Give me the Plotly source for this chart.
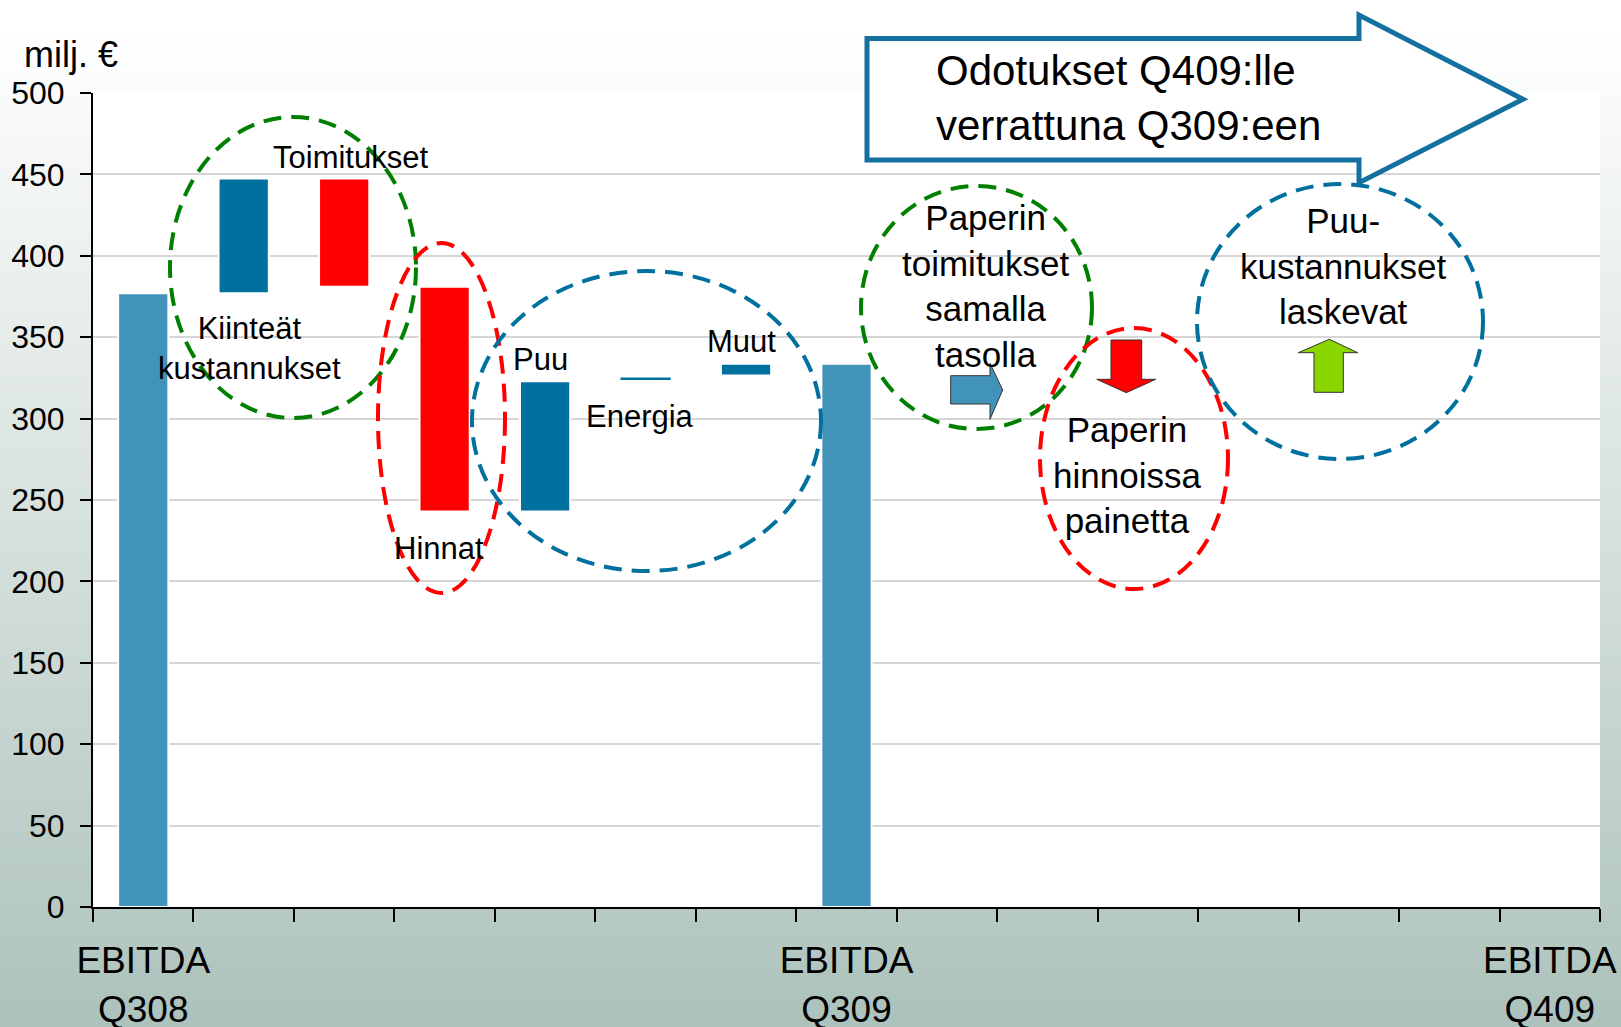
import plotly.graph_objects as go

# ---------------- data ----------------
step_names = ["EBITDA Q308", "Kiinteät kustannukset", "Toimitukset", "Hinnat",
              "Puu", "Energia", "Muut", "EBITDA Q309"]
step_pos = [0, 1, 2, 3, 4, 5, 6, 7]
step_base = [0, 377, 381, 243, 243, 324, 326.5, 0]
step_top = [377, 447.5, 447.5, 381, 323, 325.2, 333.7, 333.7]
step_kind = ["total", "up", "down", "down", "up", "up", "up", "total"]

x_tick_pos = [0, 7, 14]
x_tick_text = ["EBITDA<br>Q308", "EBITDA<br>Q309", "EBITDA<br>Q409"]
y_tick_vals = [0, 50, 100, 150, 200, 250, 300, 350, 400, 450, 500]

# ---------------- layout geometry ----------------
W, H = 1621, 1027
ML, MR, MT, MB = 93, 21, 93, 120
PW = W - ML - MR
PH = H - MT - MB


def px(x):
    return (x - ML) / PW


def py(y):
    return (H - MB - y) / PH


FONT = "Arial, Liberation Sans, Helvetica, sans-serif"
COL_TOTAL = "#4193B9"
COL_UP = "#00709E"
COL_DOWN = "#FF0000"
COL_GREEN = "#008000"
kind_color = {"total": COL_TOTAL, "up": COL_UP, "down": COL_DOWN}

heights = [t - b for t, b in zip(step_top, step_base)]
colors = [kind_color[k] for k in step_kind]
line_w = [2 if h > 3 else 0 for h in heights]

fig = go.Figure()
fig.add_trace(go.Bar(
    x=step_pos, y=heights, base=step_base, width=0.5,
    marker=dict(color=colors, line=dict(color="white", width=line_w)),
    hoverinfo="skip", showlegend=False, name="EBITDA",
))

shapes = []
# gradient background
N = 110
top_c = (255, 255, 255)
bot_c = (173, 194, 188)
for i in range(N):
    y0 = i * H / N
    y1 = (i + 1) * H / N
    t = max(0.0, ((y0 + y1) / 2 - 30) / (H - 30))
    c = tuple(round(a + (b - a) * t) for a, b in zip(top_c, bot_c))
    shapes.append(dict(type="rect", xref="paper", yref="paper",
                       x0=px(-2), x1=px(W + 2), y0=py(y1 + 1), y1=py(y0),
                       fillcolor="rgb(%d,%d,%d)" % c, line=dict(width=0),
                       layer="below"))
shapes.append(dict(type="rect", xref="paper", yref="paper", x0=0, x1=1, y0=0, y1=1,
                   fillcolor="white", line=dict(width=0), layer="below"))

DASH = "18px,10px"


def ellipse(x0, x1, y0, y1, color):
    return dict(type="circle", xref="paper", yref="paper",
                x0=px(x0), x1=px(x1), y0=py(y1), y1=py(y0),
                line=dict(color=color, width=4, dash=DASH),
                fillcolor="rgba(0,0,0,0)", layer="above")


shapes += [
    ellipse(170, 416, 117, 418, COL_GREEN),
    ellipse(378, 505, 243, 593, COL_DOWN),
    ellipse(472, 821, 271, 571, COL_UP),
    ellipse(861, 1092, 186, 429, COL_GREEN),
    ellipse(1040, 1228, 328, 589, COL_DOWN),
    ellipse(1197, 1483, 184, 459, COL_UP),
]


def poly(points, fill, line_color, line_width):
    d = "M " + " L ".join("%.5f,%.5f" % (px(a), py(b)) for a, b in points) + " Z"
    return dict(type="path", xref="paper", yref="paper", path=d,
                fillcolor=fill, line=dict(color=line_color, width=line_width),
                layer="above")


# big arrow
shapes.append(poly([(867, 38.5), (1359, 38.5), (1359, 15), (1523, 99.3),
                    (1359, 182.7), (1359, 160), (867, 160)],
                   "white", "#14719F", 5))
# small arrows
shapes.append(poly([(950.7, 375.7), (990, 375.7), (990, 363.3), (1002.7, 390),
                    (990, 419.3), (990, 404), (950.7, 404)],
                   COL_TOTAL, "#333333", 1))
shapes.append(poly([(1111, 340), (1141.7, 340), (1141.7, 379.3), (1155.7, 379.3),
                    (1126.3, 392.7), (1096.7, 379.3), (1111, 379.3)],
                   "#FF0000", "#333333", 1))
shapes.append(poly([(1329.3, 339.3), (1357.7, 352.7), (1343.3, 352.7), (1343.3, 392.3),
                    (1314, 392.3), (1314, 352.7), (1298.3, 352.7)],
                   "#8CD600", "#333333", 1))

annotations = []


def label(text, x, y, size, xanchor="center", align="center"):
    annotations.append(dict(text=text, xref="paper", yref="paper", x=px(x), y=py(y),
                            xanchor=xanchor, yanchor="middle", align=align,
                            showarrow=False, font=dict(family=FONT, size=size, color="black")))


label("milj. €", 22, 55, 36, xanchor="left", align="left")
label("Toimitukset", 350, 157, 31)
label("Kiinteät<br>kustannukset", 249, 348, 31)
label("Hinnat", 439, 548, 31)
label("Puu", 540, 359, 31)
label("Energia", 640, 417, 31)
label("Muut", 741, 341, 31)
label("Odotukset Q409:lle<br>verrattuna Q309:een", 934, 98, 42, xanchor="left", align="left")
label("Paperin<br>toimitukset<br>samalla<br>tasolla", 986, 286, 35)
label("Paperin<br>hinnoissa<br>painetta", 1127, 475, 35)
label("Puu-<br>kustannukset<br>laskevat", 1343, 266, 35)

fig.update_layout(
    width=W, height=H,
    margin=dict(l=ML, r=MR, t=MT, b=MB, pad=0, autoexpand=False),
    paper_bgcolor="white", plot_bgcolor="white",
    shapes=shapes, annotations=annotations,
    bargap=0.5,
    font=dict(family=FONT, color="black"),
    xaxis=dict(range=[-0.5, 14.5], tickmode="array", tickvals=x_tick_pos,
               ticktext=x_tick_text, ticks="", showgrid=False, zeroline=False,
               showline=True, linecolor="black", linewidth=2,
               tickfont=dict(family=FONT, size=37, color="black"),
               ticklabelstandoff=20, automargin=False, fixedrange=True,
               minor=dict(ticks="outside", tick0=-0.5, dtick=1, ticklen=13,
                          tickwidth=2, tickcolor="black", showgrid=False)),
    yaxis=dict(range=[0, 500], tickmode="array", tickvals=y_tick_vals,
               ticks="outside", ticklen=11, tickwidth=2, tickcolor="black",
               showgrid=True, gridcolor="#D6D6D6", gridwidth=1.5,
               showline=True, linecolor="black", linewidth=2, zeroline=False,
               tickfont=dict(family=FONT, size=32, color="black"),
               ticklabelstandoff=9, automargin=False, fixedrange=True),
)

fig.write_html("out.html", config={"displayModeBar": False},
               post_script="document.body.style.margin='0';document.body.style.overflow='hidden';")
